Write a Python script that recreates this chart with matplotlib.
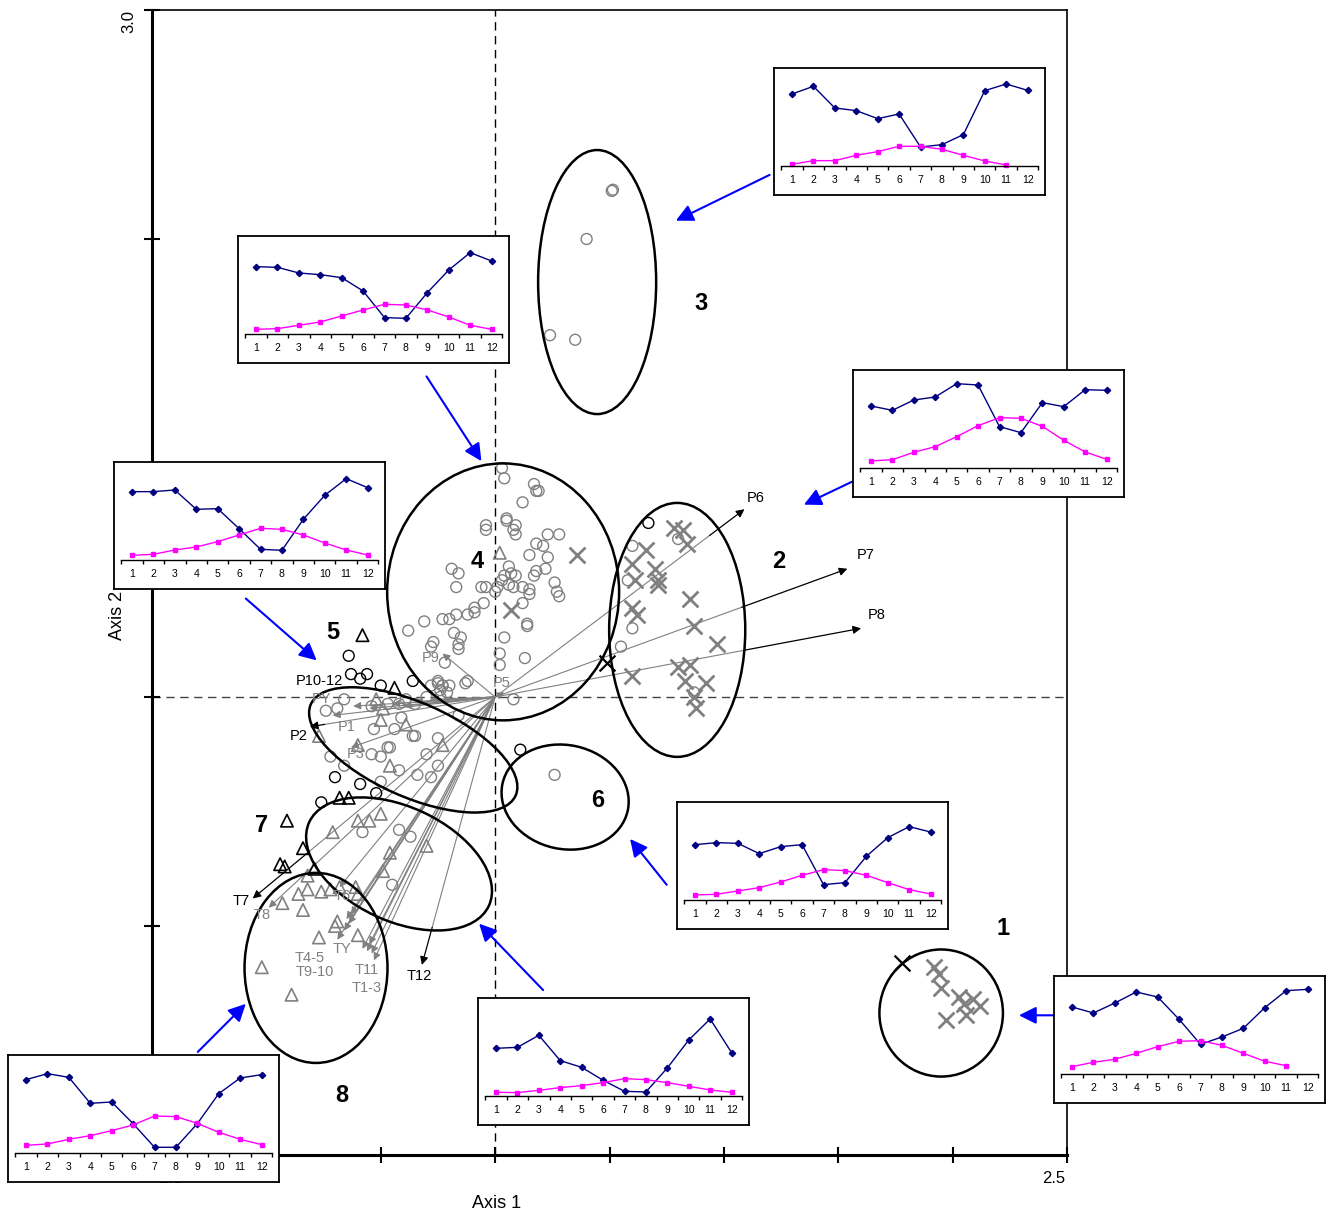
import numpy as np
import matplotlib.pyplot as plt
from matplotlib.patches import Ellipse

plt.rcParams['font.family'] = ['Liberation Sans', 'DejaVu Sans']

FW, FH = 1332, 1213

# ---- site scores (Axis 1, Axis 2) ----
gray_circles = [
    # group 4
    (0.03, 1.00), (0.04, 0.955), (0.17, 0.93), (0.18, 0.90), (0.19, 0.90), (0.12, 0.85),
    (-0.04, 0.75), (-0.04, 0.73), (0.05, 0.78), (0.05, 0.77), (0.09, 0.75), (0.08, 0.73),
    (0.09, 0.71), (0.18, 0.67), (0.21, 0.66), (0.23, 0.71), (0.28, 0.71), (0.23, 0.61),
    (0.22, 0.56), (0.18, 0.55), (0.17, 0.53), (0.15, 0.62), (0.06, 0.57), (0.07, 0.54),
    (0.09, 0.53), (0.04, 0.53), (0.03, 0.51), (0.06, 0.49), (0.08, 0.48), (0.01, 0.48),
    (0.00, 0.46), (-0.06, 0.48), (-0.04, 0.48), (0.12, 0.48), (0.15, 0.47), (0.15, 0.45),
    (0.12, 0.41), (0.26, 0.50), (0.27, 0.46), (0.28, 0.44), (-0.19, 0.56), (-0.16, 0.54),
    (-0.17, 0.48), (-0.05, 0.41), (-0.09, 0.39), (-0.12, 0.36), (-0.09, 0.37), (-0.17, 0.36),
    (-0.20, 0.34), (-0.23, 0.34), (-0.31, 0.33), (-0.38, 0.29), (-0.18, 0.28), (-0.15, 0.26),
    (-0.16, 0.23), (-0.16, 0.21), (-0.27, 0.24), (-0.28, 0.22), (0.14, 0.32), (0.14, 0.31),
    (0.04, 0.26), (0.02, 0.19), (0.02, 0.14), (0.13, 0.17), (-0.13, 0.06), (-0.22, 0.15),
    (0.08, -0.01), (-0.20, 0.05), (-0.23, 0.05), (-0.24, 0.03), (-0.25, 0.06),
    # group 3
    (0.51, 2.21), (0.515, 2.215), (0.40, 2.00), (0.24, 1.58), (0.35, 1.56),
    # group 2
    (0.80, 0.69), (0.58, 0.51), (0.60, 0.30), (0.55, 0.22), (0.87, 0.02), (0.60, 0.66),
    # group 6
    (0.26, -0.34),
    # group 5
    (-0.66, -0.01), (-0.74, -0.06), (-0.69, -0.05), (-0.54, -0.04), (-0.47, -0.03),
    (-0.42, -0.03), (-0.39, -0.01), (-0.35, -0.03), (-0.30, 0.00), (-0.24, 0.00),
    (-0.21, 0.02), (-0.23, 0.05), (-0.28, 0.05), (-0.25, 0.07), (-0.12, 0.07),
    (-0.16, -0.08), (-0.41, -0.09), (-0.44, -0.14), (-0.36, -0.17), (-0.35, -0.17),
    (-0.53, -0.14), (-0.47, -0.22), (-0.46, -0.22), (-0.50, -0.26), (-0.54, -0.25),
    (-0.72, -0.26), (-0.66, -0.30), (-0.42, -0.32), (-0.34, -0.34), (-0.30, -0.25),
    (-0.25, -0.18), (-0.25, -0.30), (-0.28, -0.35), (-0.50, -0.37),
    # group 7
    (-0.37, -0.61), (-0.42, -0.58), (-0.58, -0.59), (-0.45, -0.82),
]
black_circles = [
    (-0.64, 0.18), (-0.63, 0.10), (-0.59, 0.08), (-0.56, 0.10), (-0.50, 0.05), (-0.36, 0.07),
    (-0.70, -0.35), (-0.59, -0.38), (-0.76, -0.46), (-0.52, -0.42), (0.11, -0.23), (0.67, 0.76),
]
gray_crosses = [
    # group 2
    (0.78, 0.74), (0.82, 0.73), (0.84, 0.67), (0.66, 0.64), (0.60, 0.58), (0.70, 0.56),
    (0.71, 0.51), (0.71, 0.49), (0.61, 0.51), (0.60, 0.39), (0.62, 0.36), (0.85, 0.43),
    (0.87, 0.31), (0.97, 0.23), (0.60, 0.09), (0.80, 0.13), (0.85, 0.14), (0.83, 0.07),
    (0.92, 0.06), (0.87, 0.00), (0.88, -0.05),
    # inside group 4
    (0.36, 0.62), (0.07, 0.38),
    # group 1
    (1.92, -1.18), (1.94, -1.21), (1.95, -1.27), (2.03, -1.31), (2.05, -1.34),
    (2.09, -1.32), (2.12, -1.35), (2.06, -1.39), (1.97, -1.41),
]
black_crosses = [(0.49, 0.15), (1.78, -1.16)]
gray_triangles = [
    # group 5
    (-0.52, -0.01), (-0.49, -0.05), (-0.50, -0.10), (-0.39, -0.12), (-0.77, -0.17),
    (-0.60, -0.21), (-0.46, -0.30), (-0.23, -0.21),
    # group 4
    (0.02, 0.63),
    # group 7
    (-0.71, -0.59), (-0.60, -0.54), (-0.55, -0.54), (-0.50, -0.51), (-0.30, -0.65),
    (-0.46, -0.68), (-0.49, -0.76),
    # group 8
    (-0.82, -0.78), (-0.82, -0.84), (-0.86, -0.86), (-0.76, -0.85), (-0.72, -0.84),
    (-0.68, -0.83), (-0.61, -0.83), (-0.60, -0.86), (-0.93, -0.90), (-0.84, -0.93),
    (-0.69, -0.98), (-0.70, -1.00), (-0.77, -1.05), (-0.60, -1.04), (-1.02, -1.18),
    (-0.89, -1.30),
]
black_triangles = [
    (-0.58, 0.27), (-0.44, 0.04), (-0.68, -0.44), (-0.64, -0.44), (-0.91, -0.54),
    (-0.84, -0.66), (-0.94, -0.73), (-0.92, -0.74), (-0.79, -0.75),
]

# ---- climate variable vectors ----
black_vec_names = ['P6', 'P7', 'P8', 'P2', 'T7', 'T12']
black_vec_tips = [(1.09, 0.82), (1.54, 0.56), (1.60, 0.30), (-0.81, -0.13), (-1.06, -0.88), (-0.32, -1.17)]
black_vec_labels = [(1.14, 0.87), (1.62, 0.62), (1.67, 0.36), (-0.86, -0.17), (-1.11, -0.89), (-0.33, -1.22)]
# fraction of the vector drawn grey before it turns black
grey_frac = [0.86, 0.70, 0.68, 0.92, 0.77, 0.86]

gray_vec_names = ['P9', 'P5', 'PY', 'P1', 'P3', 'T8', 'T6', 'T4-5', 'T9-10', 'TY', 'T11', 'T1-3']
gray_vec_tips = [(-0.23, 0.19), (0.04, 0.02), (-0.62, -0.04), (-0.71, -0.08), (-0.63, -0.22),
                 (-0.99, -0.92), (-0.68, -0.83), (-0.65, -0.97), (-0.69, -1.06), (-0.66, -1.02),
                 (-0.56, -1.11), (-0.53, -1.15)]
gray_vec_labels = [(-0.28, 0.17), (0.03, 0.06), (-0.76, -0.01), (-0.65, -0.13), (-0.61, -0.25),
                   (-1.02, -0.95), (-0.67, -0.87), (-0.81, -1.14), (-0.79, -1.20), (-0.67, -1.10),
                   (-0.56, -1.19), (-0.56, -1.27)]
# unlabeled (overlapping) vectors
extra_vec_tips = [(-0.45, -0.03), (-0.35, -0.02), (-0.55, -0.05), (-0.28, -0.01), (-0.40, -0.04),
                  (-0.64, -0.99), (-0.63, -0.95), (-0.55, -1.08), (-0.54, -1.12), (-0.58, -1.10)]
p1012_label = (-0.77, 0.07)

# ---- groups (ellipses) ----
grp_names = ['1', '2', '3', '4', '5', '6', '7', '8']
grp_center = [(1.95, -1.38), (0.796, 0.293), (0.446, 1.812), (0.035, 0.459),
              (-0.358, -0.231), (0.306, -0.437), (-0.42, -0.729), (-0.783, -1.183)]
grp_width = [0.54, 0.595, 0.516, 1.014, 0.98, 0.56, 0.866, 0.625]
grp_height = [0.555, 1.109, 1.153, 1.122, 0.41, 0.454, 0.498, 0.83]
grp_angle = [0, 0, 0, 0, -24, -12, -25, 0]
grp_label_pos = [(2.22, -1.01), (1.24, 0.59), (0.90, 1.72), (-0.08, 0.59),
                 (-0.71, 0.28), (0.45, -0.45), (-1.02, -0.56), (-0.67, -1.74)]

# blue pointers from the monthly profiles to the groups
ptr_start = [(2.46, -1.39), (1.56, 0.94), (1.20, 2.28), (-0.30, 1.40),
             (-1.09, 0.43), (0.75, -0.82), (0.21, -1.28), (-1.30, -1.55)]
ptr_end = [(2.29, -1.39), (1.35, 0.84), (0.79, 2.08), (-0.06, 1.03),
           (-0.78, 0.16), (0.59, -0.62), (-0.07, -0.99), (-1.09, -1.34)]

# ---- monthly profiles per group (relative units) ----
months = list(range(1, 13))
prec_1 = [202, 184, 214, 247, 232, 165, 90, 112, 138, 200, 251, 255]
temp_1 = [23, 36, 45, 63, 83, 99, 101, 87, 63, 39, 26, np.nan]
prec_2 = [187, 174, 205, 214, 254, 250, 125, 107, 197, 185, 236, 234]
temp_2 = [22, 26, 48, 65, 95, 128, 152, 150, 126, 84, 49, 27]
prec_3 = [217, 240, 175, 167, 143, 157, 58, 65, 95, 227, 247, 228]
temp_3 = [6, 17, 17, 33, 44, 60, 60, 51, 33, 16, 4, np.nan]
prec_4 = [203, 201, 184, 179, 170, 130, 50, 48, 125, 193, 245, 220]
temp_4 = [15, 17, 27, 37, 55, 73, 90, 88, 73, 52, 27, 15]
prec_5 = [206, 206, 211, 153, 155, 95, 33, 30, 123, 195, 245, 218]
temp_5 = [15, 18, 31, 40, 56, 76, 96, 93, 76, 52, 31, 16]
prec_6 = [167, 173, 171, 140, 161, 167, 47, 53, 132, 188, 221, 205]
temp_6 = [16, 18, 28, 38, 55, 75, 92, 89, 75, 53, 32, 19]
prec_7 = [144, 147, 183, 107, 87, 48, 15, 13, 85, 169, 232, 131]
temp_7 = [12, 11, 18, 26, 32, 41, 53, 50, 41, 30, 19, 12]
prec_8 = [221, 239, 228, 150, 154, 89, 18, 18, 89, 179, 226, 236]
temp_8 = [24, 28, 42, 53, 68, 85, 112, 110, 90, 63, 42, 26]

fig = plt.figure(figsize=(FW / 100, FH / 100), dpi=100)
ax = fig.add_axes([152 / FW, 1 - 1155 / FH, 915 / FW, 1145 / FH])
ax.set_xlim(-1.5, 2.5)
ax.set_ylim(-2.0, 3.0)
ax.set_xticks(np.arange(-1.5, 2.51, 0.5))
ax.set_yticks(np.arange(-2, 3.01, 1))
ax.set_xticklabels([])
ax.set_yticklabels([])
ax.tick_params(direction='inout', length=12, width=1.5, color='black')
for side in ['left', 'bottom']:
    ax.spines[side].set_linewidth(2.2)
for side in ['top', 'right']:
    ax.spines[side].set_linewidth(1.2)

ax.axvline(0, color='black', lw=1, ls=(0, (6, 4)), zorder=1)
ax.axhline(0, color='#444444', lw=1, ls=(0, (6, 4)), zorder=1)

# vectors
grey_arrow = dict(arrowstyle='-|>', color='#808080', lw=0.8, mutation_scale=11, shrinkA=0, shrinkB=0)
for tip in extra_vec_tips:
    ax.annotate('', xy=tip, xytext=(0, 0), zorder=2, arrowprops=grey_arrow)
for name, tip, lab in zip(gray_vec_names, gray_vec_tips, gray_vec_labels):
    ax.annotate('', xy=tip, xytext=(0, 0), zorder=2, arrowprops=grey_arrow)
    ax.text(lab[0], lab[1], name, color='#808080', fontsize=10.5, ha='center', va='center', zorder=6)
for name, tip, lab, frac in zip(black_vec_names, black_vec_tips, black_vec_labels, grey_frac):
    split = (tip[0] * frac, tip[1] * frac)
    ax.plot([0, split[0]], [0, split[1]], color='#808080', lw=0.8, zorder=2)
    ax.annotate('', xy=tip, xytext=split, zorder=3,
                arrowprops=dict(arrowstyle='-|>', color='black', lw=0.9,
                                mutation_scale=12, shrinkA=0, shrinkB=0))
    ax.text(lab[0], lab[1], name, color='black', fontsize=10.5, ha='center', va='center', zorder=6)
ax.text(p1012_label[0], p1012_label[1], 'P10-12', color='black', fontsize=10.5,
        ha='center', va='center', zorder=6)


# sites
def xy(pts):
    a = np.array(pts)
    return a[:, 0], a[:, 1]


x, y = xy(gray_circles)
ax.scatter(x, y, s=62, marker='o', facecolors='none', edgecolors='#808080', linewidths=1, zorder=3)
x, y = xy(black_circles)
ax.scatter(x, y, s=62, marker='o', facecolors='none', edgecolors='black', linewidths=1, zorder=3)
x, y = xy(gray_triangles)
ax.scatter(x, y, s=80, marker='^', facecolors='none', edgecolors='#808080', linewidths=1.2, zorder=3)
x, y = xy(black_triangles)
ax.scatter(x, y, s=80, marker='^', facecolors='none', edgecolors='black', linewidths=1.2, zorder=3)
x, y = xy(gray_crosses)
ax.scatter(x, y, s=130, marker='x', color='#808080', linewidths=2, zorder=3)
x, y = xy(black_crosses)
ax.scatter(x, y, s=130, marker='x', color='black', linewidths=1.6, zorder=3)

# groups
for name, c, w, h, ang, lp in zip(grp_names, grp_center, grp_width, grp_height, grp_angle, grp_label_pos):
    ax.add_patch(Ellipse(c, w, h, angle=ang, fill=False, ec='black', lw=1.8, zorder=4))
    ax.text(lp[0], lp[1], name, fontsize=17, fontweight='bold', ha='center', va='center', zorder=6)

for s, e in zip(ptr_start, ptr_end):
    ax.annotate('', xy=e, xytext=s, zorder=5, annotation_clip=False,
                arrowprops=dict(arrowstyle='-|>', color='#0000FF', lw=1.5,
                                mutation_scale=26, shrinkA=0, shrinkB=0))

# tick labels at the axis ends only
ax.annotate('3.0', xy=(0, 1), xycoords='axes fraction', xytext=(-16, 0), textcoords='offset pixels',
            rotation=90, ha='right', va='top', fontsize=12)
ax.annotate('-1.5', xy=(0, 0), xycoords='axes fraction', xytext=(2, -16), textcoords='offset pixels',
            ha='left', va='top', fontsize=12)
ax.annotate('2.5', xy=(1, 0), xycoords='axes fraction', xytext=(-2, -16), textcoords='offset pixels',
            ha='right', va='top', fontsize=12)
fig.text(497 / FW, 1 - 1203 / FH, 'Axis 1', ha='center', va='center', fontsize=13)
fig.text(118 / FW, 1 - 615 / FH, 'Axis 2', ha='center', va='center', fontsize=13, rotation=90)


def draw_profile(left, top, prec, temp):
    w, h = 271, 127
    box = fig.add_axes([left / FW, 1 - (top + h) / FH, w / FW, h / FH])
    box.set_xticks([])
    box.set_yticks([])
    for sp in box.spines.values():
        sp.set_linewidth(1.3)
    inner = fig.add_axes([(left + 7.3) / FW, 1 - (top + 98.3) / FH, 257 / FW, 98.3 / FH])
    inner.patch.set_alpha(0)
    inner.plot(months, prec, color='#000080', lw=1, marker='D', ms=3.2, clip_on=False)
    inner.plot(months, temp, color='#FF00FF', lw=1, marker='s', ms=3.5, clip_on=False)
    inner.set_xlim(0.5, 12.5)
    inner.set_ylim(0, 295)
    for sp in ['top', 'left', 'right']:
        inner.spines[sp].set_visible(False)
    inner.spines['bottom'].set_linewidth(1)
    inner.set_yticks([])
    inner.set_xticks(np.arange(0.5, 12.6, 1))
    inner.set_xticklabels([])
    inner.tick_params(axis='x', which='major', direction='out', length=3, width=1)
    inner.set_xticks(months, minor=True)
    inner.set_xticklabels([str(m) for m in months], minor=True, fontsize=7.5)
    inner.tick_params(axis='x', which='minor', length=0, pad=6)


draw_profile(1054, 976, prec_1, temp_1)
draw_profile(853, 370, prec_2, temp_2)
draw_profile(774, 68, prec_3, temp_3)
draw_profile(238, 236, prec_4, temp_4)
draw_profile(114, 462, prec_5, temp_5)
draw_profile(677, 802, prec_6, temp_6)
draw_profile(478, 998, prec_7, temp_7)
draw_profile(8, 1055, prec_8, temp_8)

fig.savefig('out.png', dpi=100)
